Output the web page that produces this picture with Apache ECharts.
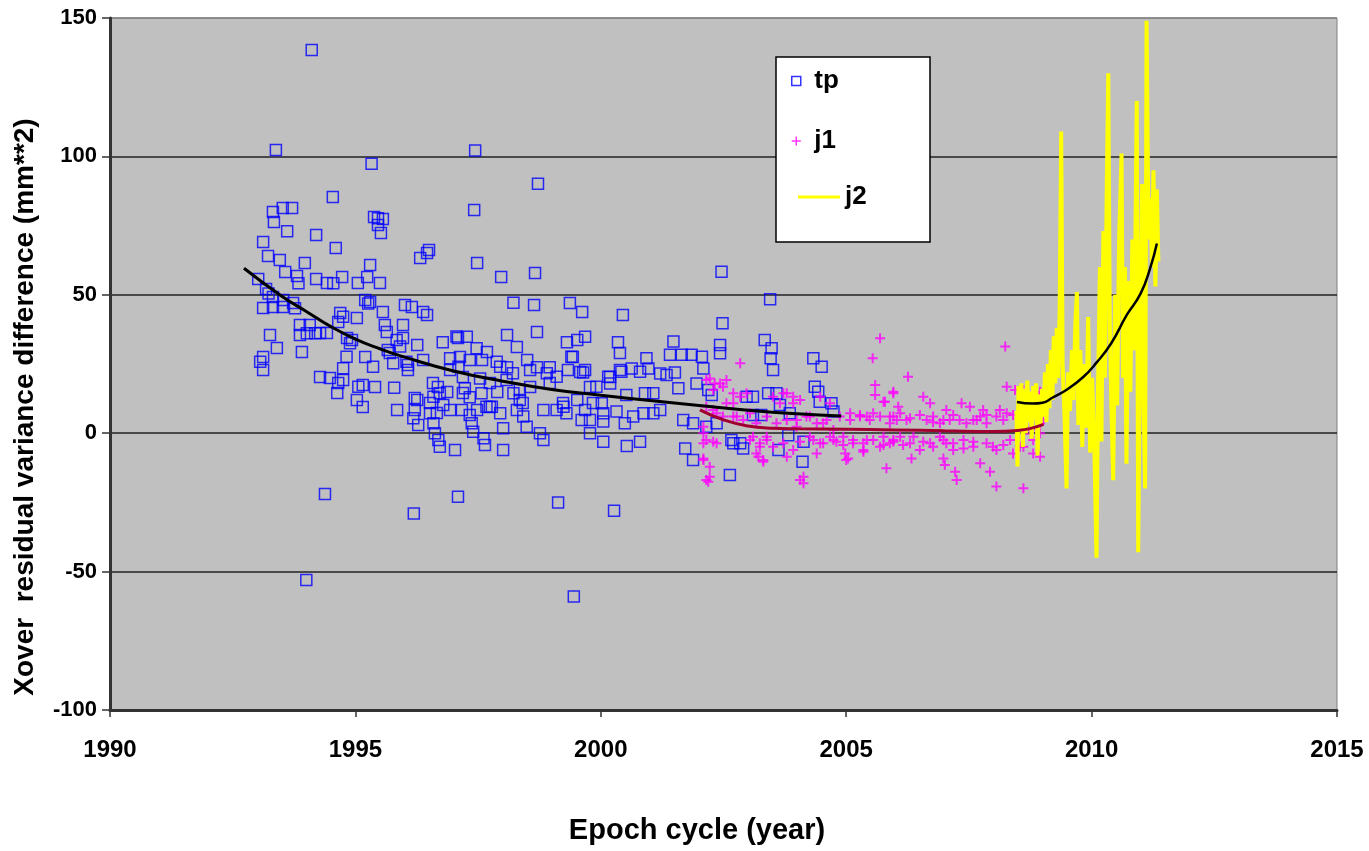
<!DOCTYPE html>
<html>
<head>
<meta charset="utf-8">
<title>Xover residual variance difference</title>
<script src="https://cdn.jsdelivr.net/npm/echarts@6/dist/echarts.min.js"></script>
<style>
  html, body { margin: 0; padding: 0; background: #fff; }
  #chart { width: 1369px; height: 851px; }
</style>
</head>
<body>
<div id="chart"></div>
<script>
// axis ticks
var xTicks = [1990, 1995, 2000, 2005, 2010, 2015];
var yTicks = [-100, -50, 0, 50, 100, 150];

// tp (TOPEX/Poseidon) scatter, [year, value]
var tpPoints = [
  [1994.11,138.4],[1993.38,102.3],[1995.33,97.3],[1997.44,102.1],[1998.72,90.1],[1994.54,85.3],
  [1993.32,79.9],[1993.52,81.4],[1993.71,81.4],[1993.34,76.3],[1993.61,73.0],[1994.20,71.6],[1994.60,66.9],
  [1995.38,78.1],[1995.46,77.7],[1995.56,77.4],[1995.46,75.2],[1995.52,72.3],[1997.42,80.6],
  [1996.32,63.3],[1996.46,65.1],[1996.50,66.2],[1997.48,61.5],[1997.97,56.4],[1998.66,57.9],
  [1993.12,69.1],[1993.22,64.0],[1993.46,62.6],[1993.57,58.2],[1993.81,56.8],[1993.97,61.5],[1994.20,55.7],
  [1994.42,54.3],[1994.73,56.4],[1995.05,54.3],[1995.30,60.8],[1995.24,56.4],[1995.50,54.3],
  [1993.02,55.7],[1993.18,52.1],[1993.32,49.2],[1993.52,45.6],[1993.73,47.0],[1993.12,45.2],[1993.32,45.6],
  [1993.87,39.1],[1994.07,39.1],[1994.28,36.2],[1994.42,36.2],[1993.87,35.5],[1993.26,35.5],[1993.40,30.8],
  [1993.12,27.5],[1993.12,22.8],[1993.91,29.3],[1994.28,20.3],[1994.48,19.9],[1994.65,18.1],[1994.63,14.5],
  [1994.75,23.5],[1994.83,34.4],[1994.93,33.7],[1994.69,43.4],[1995.03,41.6],[1994.65,40.2],[1995.20,48.1],
  [1995.30,47.4],[1995.20,27.5],[1995.56,43.8],[1995.60,39.1],[1995.64,36.6],[1995.97,39.1],[1996.01,46.3],
  [1996.15,45.6],[1996.38,43.8],[1996.46,42.7],[1995.97,34.4],[1995.70,29.0],[1995.77,25.3],[1996.07,24.6],
  [1996.07,22.8],[1996.26,31.9],[1996.38,26.4],[1995.15,17.4],[1995.40,16.7],[1995.03,12.0],[1995.15,9.5],
  [1995.85,8.4],[1995.79,16.4],[1996.21,12.7],
  [1996.78,32.9],[1997.09,34.4],[1997.27,34.8],[1997.13,27.5],[1997.33,26.4],[1997.58,26.4],[1997.68,29.3],
  [1998.09,35.5],[1998.29,31.1],[1998.70,36.6],[1998.50,26.4],[1998.56,22.8],[1998.96,23.8],[1999.37,47.0],
  [1999.62,43.8],[1999.31,32.9],[1999.52,33.7],[1999.68,34.8],[1999.43,27.5],[1999.33,22.8],[1999.58,22.1],
  [1999.68,22.8],[2000.35,32.9],[2000.39,29.0],[2000.39,22.8],[2000.45,42.7],[2000.19,20.3],
  [1996.58,18.1],[1996.68,16.7],[1996.93,22.8],[1997.19,20.3],[1996.87,14.9],[1997.19,14.5],[1997.33,13.0],
  [1997.74,18.1],[1997.89,14.9],[1998.09,23.8],[1998.21,21.7],[1998.35,15.6],[1998.41,10.9],[1998.56,16.7],
  [1998.70,23.8],[1998.90,21.7],[1998.96,18.1],[1999.23,10.9],[1999.52,12.0],[1999.78,16.7],[1999.84,10.9],
  [1998.29,8.4],[1996.26,12.0],[1996.52,10.9],[1996.66,7.3],[1997.48,8.4],[1997.74,9.5],
  [1993.84,54.2],[1994.55,54.2],[1993.23,50.5],[1993.53,48.1],[1993.77,45.1],[1994.01,36.1],[1994.18,36.1],
  [1994.75,42.1],[1995.26,46.9],[1993.06,25.8],[1994.89,32.5],[1995.36,24.0],[1994.82,27.6],[1994.75,19.2],
  [1995.06,16.8],[1995.84,33.7],[1995.66,30.1],[1995.91,31.3],[1996.04,25.8],[1996.21,8.4],[1996.59,13.2],
  [1996.52,7.2],
  [1998.22,47.1],[1998.64,46.3],[1997.06,34.9],[1997.47,30.7],[1996.93,27.1],[1997.10,24.0],[1997.88,25.8],
  [1997.95,24.0],[1999.10,20.4],[1996.72,14.4],[1997.23,16.2],[1997.54,19.8],[1998.08,19.2],[1998.22,14.4],
  [1998.35,12.0],[1997.57,14.4],[1997.67,9.6],[1996.79,10.2],[1996.93,8.4],[1997.17,8.4],[1997.33,6.6],
  [1997.78,9.6],[1997.95,7.2],[1998.42,6.0],[1998.83,8.4],[1999.10,8.4],[1999.24,9.6],[1996.18,5.4],
  [1996.28,3.0],[1996.59,3.6],[1996.62,0.0],[1996.69,-2.5],[1996.72,-4.9],[1997.03,-6.1],[1997.37,3.6],
  [1997.40,0.5],[1997.61,-1.8],[1997.64,-4.3],[1998.01,1.8],[1998.01,-6.1],[1998.76,0.0],[1998.83,-2.5],
  [1998.49,2.3],[1999.61,4.8],
  [2002.46,58.3],[2002.48,39.7],[1999.40,27.6],[2001.48,33.1],[2001.41,28.3],[2001.65,28.3],[2001.85,28.3],
  [2002.06,27.6],[2002.09,23.4],[2002.43,31.9],[2002.43,28.9],[2000.93,27.1],[1999.64,21.9],[2000.15,20.4],
  [2000.19,18.0],[2000.42,22.2],[2000.63,23.4],[2000.80,22.2],[2000.97,23.4],[2001.21,21.6],[2001.34,21.0],
  [2001.51,21.9],[1999.91,16.8],[2000.52,13.8],[2000.90,14.4],[2001.07,14.4],[2001.58,16.2],[2001.95,18.0],
  [2002.19,15.6],[1999.30,7.2],[1999.68,8.4],[1999.78,4.8],[2000.02,10.8],[2000.05,7.2],[2000.05,4.2],
  [2000.32,7.8],[2000.49,3.6],[2000.66,6.0],[2000.87,7.2],[2001.07,7.2],[2001.21,8.4],[2000.05,-3.1],
  [2000.53,-4.6],[2000.80,-3.1],[1999.78,0.0],[2001.68,4.8],[2001.88,3.6],[2002.15,2.3],[2001.72,-5.5],
  [2001.88,-9.7],[2002.63,-15.1],[2002.97,13.2],[2003.10,13.2],[2002.66,-2.5],[2002.84,-3.6],
  [2003.45,48.4],[2003.34,33.7],[2003.48,30.7],[2003.46,27.1],[2003.51,22.8],[2004.33,27.1],[2004.50,24.0],
  [2004.36,16.8],[2004.43,15.0],[2004.46,11.4],[2004.70,10.8],[2004.74,7.8],[2002.26,13.8],[2003.41,14.4],
  [2003.58,14.4],[2003.10,6.6],[2003.27,6.6],[2002.36,3.6],[2003.65,10.2],[2003.85,7.2],[2002.70,-3.6],
  [2002.90,-5.5],[2003.62,-6.1],[2003.82,-0.7],[2004.13,-3.1],[2004.11,-10.3],
  [1994.38,-22],[1994.00,-53],[1996.19,-29],[1997.09,-23],[1999.13,-25],[2000.27,-28],[1999.45,-59]
];

// j1 (Jason-1) scatter, [year, value]
var j1Points = [
  [2005.69,34.3],[2008.24,31.3],[2005.54,27.1],[2006.26,20.4],[2002.84,25.3],[2005.59,17.4],[2005.96,14.4],
  [2005.59,13.8],[2005.76,11.4],[2006.57,13.2],[2006.71,10.8],[2007.35,10.8],[2007.52,9.6],[2007.79,8.4],
  [2008.27,16.8],[2008.44,15.6],[2007.04,8.4],[2007.18,6.6],[2005.08,7.2],[2005.28,6.6],[2005.42,6.0],
  [2005.55,7.2],[2005.96,6.0],[2006.10,7.2],[2006.23,4.8],[2006.50,6.6],[2006.64,4.8],[2006.77,6.0],
  [2006.91,3.6],[2007.11,4.8],[2007.45,3.6],[2007.66,4.8],[2007.86,3.6],[2008.06,6.0],[2008.20,4.8],
  [2008.40,6.6],[2004.94,-1.3],[2005.14,-3.6],[2005.42,-2.5],[2005.69,-4.9],[2005.89,-3.6],[2006.10,-1.3],
  [2006.30,-3.6],[2006.50,-6.1],[2006.71,-3.6],[2006.91,-1.3],[2007.04,-3.6],[2007.18,-6.1],[2007.39,-2.5],
  [2007.59,-4.9],[2007.86,-3.6],[2008.06,-6.1],[2008.34,-2.5],[2008.54,-4.9],[2004.98,-7.3],[2005.04,-9.1],
  [2005.35,-6.1],[2005.82,-12.7],[2006.33,-9.1],[2006.98,-9.1],[2007.22,-13.9],[2007.25,-16.9],[2007.73,-10.9],
  [2007.93,-13.9],[2008.06,-19.3],[2008.61,-19.9],[2008.95,-8.5],[2008.88,10.8],[2008.81,7.2],[2008.95,3.6],
  [2008.58,6.0],[2008.68,1.2],[2008.81,-2.5],[2008.98,14.4],[2002.15,-16.9],[2002.09,-3.6],[2002.29,-3.1],
  [2002.09,-9.1],[2002.22,19.8],[2002.43,18.0],[2002.56,19.2],[2002.29,15.6],[2002.70,14.4],[2002.84,13.2],
  [2002.97,14.4],[2002.15,9.6],[2002.36,7.2],[2002.56,10.8],[2002.70,6.0],[2002.90,4.8],[2003.04,7.2],
  [2003.17,3.6],[2003.10,-1.3],[2003.24,-3.6],[2003.38,-1.3],[2003.51,-4.9],[2003.17,-7.3],[2003.31,-9.7],
  [2003.79,14.4],[2003.92,10.8],[2003.79,4.8],[2003.99,2.3],[2004.19,6.0],[2004.40,3.6],[2004.06,-3.1],
  [2004.26,-1.3],[2004.47,-3.6],[2004.60,4.8],[2004.74,1.2],[2004.87,6.0],[2004.67,-1.3],[2004.80,-3.1],
  [2004.13,-15.7],[2004.13,-18.1],[2003.51,13.2],[2003.65,10.8],[2004.06,12.0],[2004.47,13.2],[2004.67,10.8],
  [2003.79,-8.5],[2003.92,-6.1],[2004.40,-7.3],
  [2005.96,15.0],[2005.79,11.4],[2006.06,9.6],[2007.86,6.6],[2008.13,8.4],[2008.27,7.2],[2005.89,6.0],
  [2006.30,5.4],[2006.77,4.0],[2006.98,4.8],[2007.31,4.8],[2007.59,4.8],[2007.73,6.0],[2005.76,-1.3],
  [2005.96,-2.5],[2006.16,-4.3],[2006.37,-1.3],[2006.57,-3.1],[2006.77,-4.9],[2006.98,-2.5],[2007.18,-3.6],
  [2007.39,-5.5],[2007.59,-3.1],[2007.99,-4.9],[2008.20,-4.3],[2008.40,-7.3],[2008.61,-4.9],[2008.81,-7.3],
  [2007.01,-11.5],[2008.61,15.6],[2008.95,15.0],[2009.01,4.8],[2008.74,1.2],[2008.95,0.0],[2008.88,8.4],
  [2002.15,19.2],[2002.32,18.0],[2002.49,16.8],[2003.72,14.4],[2003.92,13.2],[2002.29,8.4],[2002.49,6.0],
  [2002.77,6.0],[2003.38,6.0],[2003.58,3.6],[2003.99,4.8],[2004.26,6.0],[2004.53,3.6],[2005.08,4.8],
  [2005.28,6.0],[2005.48,4.8],[2005.69,6.0],[2005.89,3.6],[2006.03,4.8],[2002.15,-2.5],[2002.36,-3.6],
  [2003.04,-2.5],[2003.24,-4.9],[2003.38,-2.5],[2003.72,-3.6],[2004.33,-2.5],[2004.53,-3.6],[2004.74,-2.5],
  [2004.94,-4.3],[2005.14,-2.5],[2005.35,-3.6],[2005.55,-2.5],[2005.76,-4.3],[2005.96,-3.1],[2002.09,-9.7],
  [2002.22,-12.1],[2002.19,-17.5],[2003.21,-8.5],[2003.31,-10.3],[2004.06,-16.9],[2005.00,-9.7],[2005.35,-6.7],
  [2002.70,10.8],[2002.09,2.3],[2002.09,0.0],[2002.22,-15.7]
];

// j2 (Jason-2) line, [year, value]
var j2Points = [
  [2008.47,8],[2008.49,-12],[2008.51,17],[2008.54,2],[2008.57,18],[2008.60,-5],[2008.63,16],[2008.66,0],
  [2008.69,19],[2008.72,4],[2008.75,15],[2008.78,-2],[2008.81,17],[2008.84,5],[2008.87,18],[2008.90,-8],
  [2008.93,14],[2008.96,3],[2008.99,16],[2009.02,6],[2009.05,22],[2009.08,4],[2009.11,25],[2009.14,9],
  [2009.17,30],[2009.20,12],[2009.23,35],[2009.26,18],[2009.29,38],[2009.32,20],[2009.35,45],[2009.38,109],
  [2009.41,25],[2009.45,5],[2009.49,-20],[2009.52,22],[2009.56,8],[2009.60,30],[2009.63,12],[2009.67,40],
  [2009.70,51],[2009.73,3],[2009.77,30],[2009.81,-5],[2009.85,25],[2009.89,2],[2009.93,42],[2009.97,-7],
  [2010.01,20],[2010.05,0],[2010.10,-45],[2010.13,15],[2010.17,60],[2010.20,-3],[2010.24,73],[2010.27,20],
  [2010.31,90],[2010.34,130],[2010.37,40],[2010.41,5],[2010.44,-17],[2010.48,50],[2010.52,10],[2010.56,70],
  [2010.61,101],[2010.64,20],[2010.68,60],[2010.71,-11],[2010.75,55],[2010.79,15],[2010.83,70],[2010.87,30],
  [2010.92,120],[2010.95,-43],[2010.99,40],[2011.03,90],[2011.06,10],[2011.09,-20],[2011.12,149],[2011.16,70],
  [2011.20,85],[2011.23,60],[2011.26,95],[2011.30,53],[2011.33,88],[2011.36,62]
];

// trend curves
var tpTrend = [
  [1992.73,59.6],[1993.5,49.5],[1994,44],[1994.5,38.5],[1995,34],[1995.5,30.5],[1996,27.5],[1997,22.5],
  [1998,18.8],[1999,15.8],[2000,13.7],[2001,11.8],[2002,10],[2003,8.3],[2004,7],[2004.9,6.2]
];
var j1Trend = [
  [2002.02,8.4],[2002.5,4.8],[2003,2.6],[2003.5,1.8],[2004,1.6],[2005,1.4],[2006,1.2],[2007,0.9],
  [2008,0.6],[2008.5,1.0],[2009.02,3.2]
];
var j2Trend = [
  [2008.48,11.3],[2008.8,10.7],[2009.0,11.0],[2009.2,12.8],[2009.5,15.8],[2009.83,20.3],[2010.1,25.5],
  [2010.4,32.5],[2010.72,42.8],[2011.0,50.5],[2011.2,60],[2011.33,68.5]
];

var boldFont = 'Liberation Sans, Arial, sans-serif';
var myChart = echarts.init(document.getElementById('chart'));

var legendText = { fontSize: 26, fontWeight: 'bold', color: '#000', fontFamily: boldFont };

var option = {
  animation: false,
  backgroundColor: '#fff',
  grid: {
    left: 110, right: 32, top: 18, bottom: 141,
    show: true, backgroundColor: '#c0c0c0', borderColor: '#808080', borderWidth: 1
  },
  xAxis: {
    type: 'value',
    min: xTicks[0], max: xTicks[xTicks.length - 1], interval: xTicks[1] - xTicks[0],
    axisLine: { show: true, onZero: false, lineStyle: { color: '#333', width: 3 } },
    axisTick: { show: true, length: 7, lineStyle: { color: '#333', width: 1.5 } },
    axisLabel: {
      formatter: function (v) { return String(v); },
      margin: 28, fontSize: 24, fontWeight: 'bold', color: '#000', fontFamily: boldFont
    },
    splitLine: { show: false }
  },
  yAxis: {
    type: 'value',
    min: yTicks[0], max: yTicks[yTicks.length - 1], interval: yTicks[1] - yTicks[0],
    axisLine: { show: true, onZero: false, lineStyle: { color: '#333', width: 3 } },
    axisTick: { show: true, length: 8, lineStyle: { color: '#333', width: 1.5 } },
    axisLabel: { margin: 13, fontSize: 22, fontWeight: 'bold', color: '#000', fontFamily: boldFont },
    splitLine: {
      show: true,
      lineStyle: { color: ['#222', '#222', '#222', '#222', '#222', '#808080'], width: 1.5 }
    }
  },
  legend: [
    {
      left: 791, top: 68, padding: 0, itemWidth: 26, itemHeight: 9, selectedMode: false, textStyle: legendText,
      data: [{ name: 'tp', icon: 'path://M0,0L10,0L10,10L0,10Z',
        itemStyle: { color: 'rgba(0,0,0,0)', borderColor: '#0000ff', borderWidth: 1.5 } }]
    },
    {
      left: 791, top: 128, padding: 0, itemWidth: 26, itemHeight: 9, selectedMode: false, textStyle: legendText,
      data: [{ name: 'j1', icon: 'path://M5,0L5,10M0,5L10,5',
        itemStyle: { color: 'rgba(0,0,0,0)', borderColor: '#ff00ff', borderWidth: 1.5 } }]
    },
    {
      left: 798, top: 184, padding: 0, itemWidth: 42, itemHeight: 3, selectedMode: false, textStyle: legendText,
      data: [{ name: 'j2', icon: 'rect', itemStyle: { color: '#ffff00', borderWidth: 0 } }]
    }
  ],
  graphic: [
    {
      type: 'rect', z: 3,
      shape: { x: 776, y: 57, width: 154, height: 185 },
      style: { fill: '#fff', stroke: '#000', lineWidth: 1.5 }
    },
    {
      type: 'text', x: 25, y: 407, rotation: Math.PI / 2,
      style: {
        text: 'Xover  residual variance difference (mm**2)',
        fontSize: 28, fontWeight: 'bold', fontFamily: boldFont, fill: '#000',
        align: 'center', verticalAlign: 'middle'
      }
    },
    {
      type: 'text', x: 697, y: 831,
      style: {
        text: 'Epoch cycle (year)',
        fontSize: 29, fontWeight: 'bold', fontFamily: boldFont, fill: '#000',
        align: 'center', verticalAlign: 'middle'
      }
    }
  ],
  series: [
    {
      name: 'tp', type: 'scatter', data: tpPoints,
      symbol: 'rect', symbolSize: 11,
      itemStyle: { color: 'rgba(0,0,0,0)', borderColor: '#0000ff', borderWidth: 1.5 },
      emphasis: { disabled: true }
    },
    {
      name: 'j1', type: 'scatter', data: j1Points,
      symbol: 'path://M5,0L5,10M0,5L10,5', symbolSize: 10,
      itemStyle: { color: 'rgba(0,0,0,0)', borderColor: '#ff00ff', borderWidth: 2 },
      emphasis: { disabled: true }
    },
    {
      name: 'j2', type: 'line', data: j2Points, showSymbol: false, symbol: 'none',
      lineStyle: { color: '#ffff00', width: 4 },
      emphasis: { disabled: true }
    },
    {
      name: 'tp trend', type: 'line', data: tpTrend, smooth: true, showSymbol: false, symbol: 'none',
      lineStyle: { color: '#000', width: 3 }, emphasis: { disabled: true }, z: 5
    },
    {
      name: 'j1 trend', type: 'line', data: j1Trend, smooth: true, showSymbol: false, symbol: 'none',
      lineStyle: { color: '#a00030', width: 3 }, emphasis: { disabled: true }, z: 5
    },
    {
      name: 'j2 trend', type: 'line', data: j2Trend, smooth: true, showSymbol: false, symbol: 'none',
      lineStyle: { color: '#000', width: 2.5 }, emphasis: { disabled: true }, z: 5
    }
  ]
};

myChart.setOption(option);
window.onresize = function () {
  myChart.resize();
};
</script>
</body>
</html>
